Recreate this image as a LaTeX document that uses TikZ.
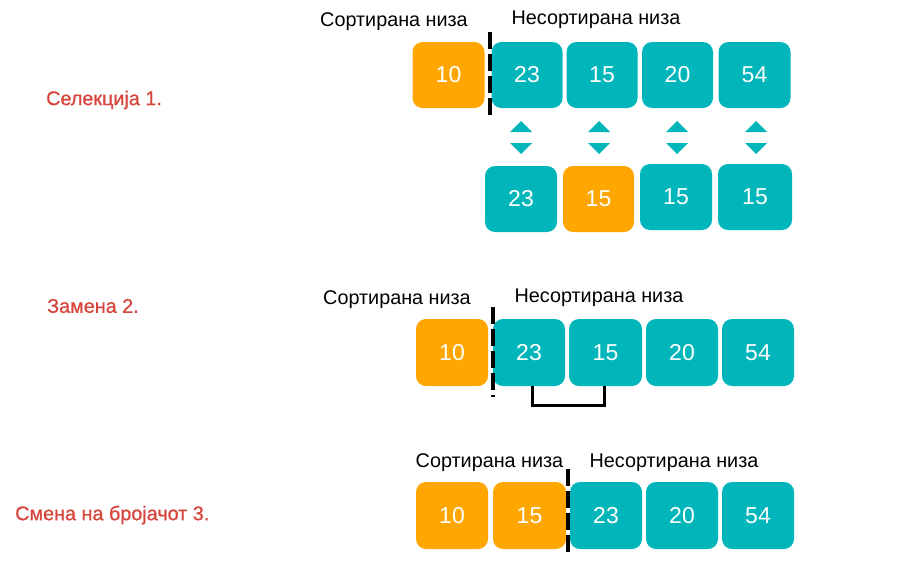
\documentclass[tikz,border=0pt]{standalone}
\usepackage{fontspec}
\setmainfont{Liberation Sans}
\newfontfamily\redfont[FakeBold=0.8]{Liberation Sans}
\definecolor{tealbox}{RGB}{0,182,187}
\definecolor{orangebox}{RGB}{255,166,0}
\definecolor{redlabel}{RGB}{214,70,60}
\begin{document}
\begin{tikzpicture}[x=1pt,y=-1pt,
  tbox/.style={fill=tealbox,rounded corners=10pt,text=white,font=\fontsize{23}{23}\selectfont},
  obox/.style={fill=orangebox,rounded corners=10pt,text=white,font=\fontsize{23}{23}\selectfont},
  hdr/.style={font=\fontsize{19.8}{20}\selectfont,inner sep=0pt},
  red/.style={text=redlabel,font=\redfont\fontsize{19.8}{20}\selectfont,inner sep=0pt,anchor=west},
  sep/.style={line width=3.4pt,dash pattern=on 17pt off 5pt},
  tri/.style={fill=tealbox}]
\useasboundingbox (0,0) rectangle (912,581);
\fill[white] (0,0) rectangle (912,581);
% labels left
\node[red] (l1) at (46,100) {Селекција 1.};
\node[red] (l2) at (47,306) {Замена 2.};
\node[red] (l3) at (15,515) {Смена на бројачот 3.};
% ---------- section 1
\node[hdr] (s1) at (394,22) {Сортирана низа};
\node[hdr] (u1) at (596,20) {Несортирана низа};
\node[obox,minimum width=72pt,minimum height=66pt] (a1) at (448.5,75) {10};
\node[tbox,minimum width=71pt,minimum height=66pt] (a2) at (527,75) {23};
\node[tbox,minimum width=71pt,minimum height=66pt] (a3) at (602,75) {15};
\node[tbox,minimum width=71pt,minimum height=66pt] (a4) at (677.5,75) {20};
\node[tbox,minimum width=72pt,minimum height=66pt] (a5) at (754.5,75) {54};
\coordinate (d1t) at (490,32); \coordinate (d1b) at (490,118);
\draw[sep] (d1t) -- (d1b);
\foreach \cx in {521,599,677,756}{
  \fill[tri] (\cx-11,132) -- (\cx+11,132) -- (\cx,121) -- cycle;
  \fill[tri] (\cx-11,143) -- (\cx+11,143) -- (\cx,154) -- cycle;
}
\node[tbox,minimum width=72pt,minimum height=66pt] (b1) at (521,199) {23};
\node[obox,minimum width=71pt,minimum height=66pt] (b2) at (598.5,199) {15};
\node[tbox,minimum width=72pt,minimum height=66pt] (b3) at (676,197) {15};
\node[tbox,minimum width=74pt,minimum height=66pt] (b4) at (755,197) {15};
% ---------- section 2
\node[hdr] (s2) at (397,300) {Сортирана низа};
\node[hdr] (u2) at (599,298) {Несортирана низа};
\node[obox,minimum width=72pt,minimum height=67pt] (c1) at (452,352.5) {10};
\node[tbox,minimum width=72pt,minimum height=67pt] (c2) at (529,352.5) {23};
\node[tbox,minimum width=73pt,minimum height=67pt] (c3) at (605.5,352.5) {15};
\node[tbox,minimum width=72pt,minimum height=67pt] (c4) at (682,352.5) {20};
\node[tbox,minimum width=72pt,minimum height=67pt] (c5) at (758,352.5) {54};
\coordinate (d2t) at (493,307); \coordinate (d2b) at (493,397);
\draw[sep] (d2t) -- (d2b);
\draw[line width=3pt] (c2.south -| 532,0) -- (532,405) -- (604,405) -- (c3.south -| 604,0);
% ---------- section 3
\node[hdr] (s3) at (489.5,463) {Сортирана низа};
\node[hdr] (u3) at (674,463) {Несортирана низа};
\node[obox,minimum width=72pt,minimum height=67pt] (e1) at (452,515.5) {10};
\node[obox,minimum width=73pt,minimum height=67pt] (e2) at (529.5,515.5) {15};
\node[tbox,minimum width=72pt,minimum height=67pt] (e3) at (606,515.5) {23};
\node[tbox,minimum width=72pt,minimum height=67pt] (e4) at (682,515.5) {20};
\node[tbox,minimum width=72pt,minimum height=67pt] (e5) at (758,515.5) {54};
\coordinate (d3t) at (568,469); \coordinate (d3b) at (568,555);
\draw[sep] (d3t) -- (d3b);
\end{tikzpicture}
\end{document}
